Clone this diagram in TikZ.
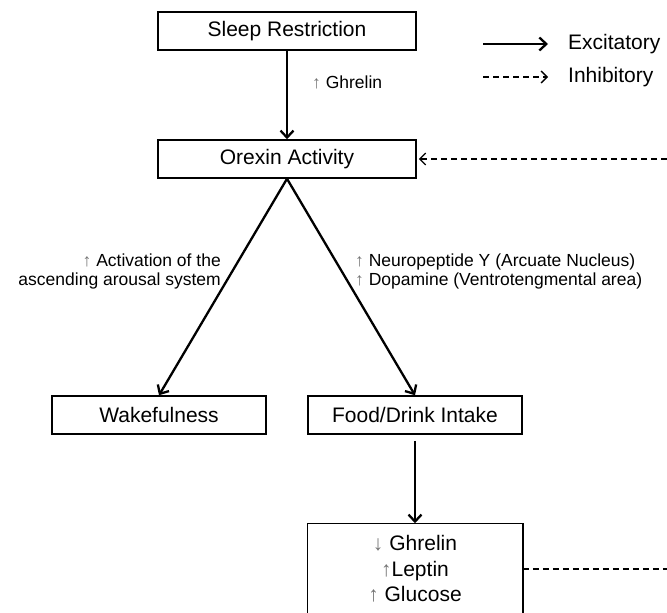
\documentclass[tikz,border=0pt]{standalone}
\usepackage{fontspec}
\setmainfont{Liberation Sans}
\usetikzlibrary{arrows.meta}
\newcommand{\uparw}{{\color{black!55}↑}}
\newcommand{\dnarw}{{\color{black!55}↓}}
\begin{document}
\begin{tikzpicture}[x=1pt,y=-1pt,
  box/.style={draw, line width=1.5pt, minimum width=214pt, minimum height=38pt, inner sep=0pt,
    font=\fontsize{21}{25.5}\selectfont},
  widebox/.style={box, minimum width=258pt},
  excite/.style={line width=2.3pt, -{Straight Barb[length=7pt,width=13pt]}},
  inhibline/.style={line width=1.3pt, dash pattern=on 6pt off 4pt},
  inhib/.style={inhibline, -{Straight Barb[length=6pt,width=12pt]}},
  lbl/.style={inner sep=0pt, font=\fontsize{17.5}{19}\selectfont},
  legtxt/.style={inner sep=0pt, anchor=west, font=\fontsize{21}{25}\selectfont}]
\useasboundingbox (0,0) rectangle (667,613);

% boxes
\node[widebox] (sleep) at (287,31) {Sleep Restriction};
\node[widebox] (orexin) at (287,159) {Orexin Activity};
\node[box] (wake) at (159,415) {Wakefulness};
\node[box] (food) at (415,415) {Food/Drink Intake};
\node[box, draw=none, minimum height=90pt, align=center] (gluc) at (415,569)
  {\dnarw\ Ghrelin\\\uparw Leptin\\\uparw\ Glucose};
\draw[line width=1.5pt] (gluc.south west) -- (gluc.north west) -- (gluc.north east) -- (gluc.south east);

% excitatory connectors
\draw[excite] (sleep) -- (orexin);
\draw[excite] (orexin.south) -- (wake.north);
\draw[excite] (orexin.south) -- (food.north);
\draw[excite, shorten <=6pt] (food.south) -- (gluc.north);

% inhibitory connectors
\coordinate (rin) at (667,159);
\coordinate (rout) at (667,569);
\draw[inhib, shorten >=2pt] (rin) -- (orexin.east);
\draw[inhibline] (gluc.east) -- (rout);

% labels
\node[lbl, anchor=west] (glab) at (312,82) {\uparw\ Ghrelin};
\node[lbl, anchor=east, align=right] (llab) at (221,271)
  {\uparw\ Activation of the\\ascending arousal system};
\node[lbl, anchor=west, align=left] (rlab) at (355,271)
  {\uparw\ Neuropeptide Y (Arcuate Nucleus)\\\uparw\ Dopamine (Ventrotengmental area)};

% legend
\coordinate (exa) at (483,44);
\coordinate (exb) at (548,44);
\coordinate (ina) at (483,77);
\coordinate (inb) at (548,77);
\draw[excite] (exa) -- (exb);
\draw[inhib] (ina) -- (inb);
\node[legtxt] (extxt) at (568,44) {Excitatory};
\node[legtxt] (intxt) at (568,77) {Inhibitory};
\end{tikzpicture}
\end{document}
